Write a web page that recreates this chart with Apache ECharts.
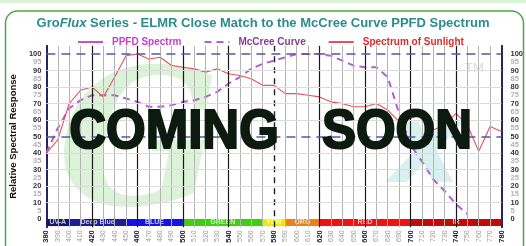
<!DOCTYPE html>
<html>
<head>
<meta charset="utf-8">
<script src="https://cdn.jsdelivr.net/npm/echarts/dist/echarts.min.js"></script>
<style>
  html, body { margin: 0; padding: 0; background: #fff; }
  #chart { width: 526px; height: 246px; }
</style>
</head>
<body>
<div id="chart"></div>
<script>
// wavelength (nm) on the x axis
var wavelengths = [380, 390, 400, 410, 420, 430, 440, 450, 460, 470, 480, 490, 500, 510, 520, 530, 540, 550, 560, 570,
  580, 590, 600, 610, 620, 630, 640, 650, 660, 670, 680, 690, 700, 710, 720, 730, 740, 750, 760, 770, 780];
// spectrum of sunlight, 380..780
var sunlight = [40, 48, 70, 78, 80, 74, 86, 99, 100, 97, 98, 93, 92, 91, 89, 91, 88, 87, 85, 81,
  81, 76, 76, 75, 74, 71, 70, 68, 68, 70, 66, 59, 61, 63, 54, 57, 64, 57, 41, 56, 53];
// McCree curve, 380..750
var mccree = [40, 55, 67, 72, 75, 75, 75, 73, 71, 68, 68, 69, 71, 72, 74, 77, 82, 86, 91, 94,
  96, 98, 100, 100, 100, 99, 96, 93, 92, 92, 86, 64, 45, 35, 24, 17, 9, 3];
// PPFD spectrum: not published yet
var ppfd = [];

// colour bands under the axis
var bandNames = ["UV-A", "Deep Blue", "BLUE", "GREEN", "YLW", "ORG", "RED", "IR"];
var bandStart = [380, 400, 450, 500, 570, 590, 620, 700];
var bandEnd = [400, 450, 500, 570, 590, 620, 700, 780];
var bandColors = ["#16166e", "#1e1e96", "#1414e6", "#3ecf12", "#ecec00", "#f08012", "#f01212", "#c20a0a"];

var hLines = [10, 20, 30, 40, 60, 70, 80, 90];
var dashedLevels = [50, 100];
var boldEvery = 40;

var chart = echarts.init(document.getElementById("chart"));

var sunPts = wavelengths.map(function (w, i) { return [w, sunlight[i]]; });
var mccPts = mccree.map(function (v, i) { return [wavelengths[i], v]; });

// vertical grid lines
var vLines = [];
wavelengths.forEach(function (w) {
  if (w === 380 || w === 780) return;
  var major = (w - 380) % boldEvery === 0;
  var ls = { color: major ? "#1a1a1a" : "#b4b4b4", width: major ? 1.2 : 1, type: "solid" };
  if (w === 580) ls = { color: "#222", width: 1.4, type: [6, 5] };
  vLines.push({ xAxis: w, lineStyle: ls });
});
hLines.forEach(function (v) {
  vLines.push({ yAxis: v, lineStyle: { color: "#dcdcdc", width: 1, type: "solid" } });
});
dashedLevels.forEach(function (v) {
  vLines.push({ yAxis: v, lineStyle: { color: "#5656a6", width: 1.6, type: [9, 6] } });
});

function yLabel(v) {
  if (v < 0 || v > 100) return "";
  return v % 10 === 0 ? "{b|" + v + "}" : "{l|" + v + "}";
}
var yRich = {
  b: { color: "#333", fontWeight: "bold", fontSize: 7.5, fontFamily: "Liberation Sans" },
  l: { color: "#b0b0b0", fontWeight: "bold", fontSize: 7.5, fontFamily: "Liberation Sans" }
};

chart.setOption({
  animation: false,
  backgroundColor: "#fff",
  title: {
    text: "Gro{i|Flux} Series - ELMR Close Match to the McCree Curve PPFD Spectrum",
    left: "center",
    top: 12,
    textStyle: {
      color: "#2a8c8c", fontSize: 13, fontWeight: "bold", fontFamily: "Liberation Sans",
      rich: { i: { color: "#2a8c8c", fontSize: 13, fontWeight: "bold", fontStyle: "italic", fontFamily: "Liberation Sans" } }
    }
  },
  legend: {
    top: 32,
    left: 72,
    itemWidth: 25,
    itemHeight: 8,
    itemGap: 22,
    itemStyle: { opacity: 0 },
    textStyle: { fontSize: 10, fontWeight: "bold", fontFamily: "Liberation Sans", padding: [0, 0, 0, 4] },
    data: [
      { name: "PPFD Spectrm", textStyle: { color: "#c83ec8" } },
      { name: "McCree Curve", textStyle: { color: "#863c96" } },
      { name: "Spectrum of Sunlight", textStyle: { color: "#e02a2a" } }
    ]
  },
  grid: { left: 39, right: 21, top: 45.75, height: 181.5 },
  xAxis: {
    type: "value", min: 380, max: 780, interval: 10,
    axisLine: { show: false }, axisTick: { show: false }, splitLine: { show: false },
    axisLabel: {
      rotate: 90, margin: 3,
      formatter: function (v) { return (v - 380) % boldEvery === 0 ? "{b|" + v + "}" : "{l|" + v + "}"; },
      rich: {
        b: { color: "#222244", fontWeight: "bold", fontSize: 7.5, fontFamily: "Liberation Sans" },
        l: { color: "#999", fontSize: 7, fontFamily: "Liberation Sans" }
      }
    }
  },
  yAxis: [
    {
      type: "value", position: "left", min: -5, max: 105, interval: 5,
      name: "Relative Spectral Response", nameLocation: "middle", nameGap: 17,
      nameTextStyle: { fontSize: 9.5, fontWeight: "bold", color: "#111", fontFamily: "Liberation Sans" },
      axisLine: { show: true, lineStyle: { color: "#26265e", width: 2 } },
      axisTick: { show: false }, splitLine: { show: false },
      axisLabel: { margin: 5, formatter: yLabel, rich: yRich }
    },
    {
      type: "value", position: "right", min: -5, max: 105, interval: 5,
      axisLine: { show: true, lineStyle: { color: "#26265e", width: 2 } },
      axisTick: { show: false }, splitLine: { show: false },
      axisLabel: { margin: 9, formatter: yLabel, rich: yRich }
    }
  ],
  graphic: [
    { type: "rect", left: 0, top: 0, shape: { width: 526, height: 3 }, style: { fill: "#dcf4d6" }, z: -10 },
    { type: "rect", shape: { x: 5.5, y: 11, width: 518, height: 250, r: 12 },
      style: { fill: null, stroke: "#4aa84a", lineWidth: 1.5 }, z: 100 },
    { type: "text", left: 58, top: 60, z: -5,
      style: { text: "G", fontSize: 190, fontStyle: "italic", fontWeight: "bold", fill: "#dcf2d9", fontFamily: "DejaVu Serif" } },
    { type: "text", left: 390, top: 98, z: -5,
      style: { text: "x", fontSize: 110, fontStyle: "italic", fontWeight: "bold", fill: "#d8f0f0", fontFamily: "DejaVu Sans" } },
    { type: "text", left: 465, top: 62, z: -5,
      style: { text: "TM", fontSize: 13, fill: "#dcdcdc", fontFamily: "Liberation Sans" } },
    { type: "text", x: 174, y: 147, scaleY: 1.1, originY: 147, z: 50,
      style: { text: "COMING", fontSize: 51, fontWeight: "bold", fill: "#0c1a10", stroke: "#0c1a10", lineWidth: 2,
        fontFamily: "Liberation Sans", align: "center", verticalAlign: "middle" } },
    { type: "text", x: 397, y: 147, scaleY: 1.1, originY: 147, z: 50,
      style: { text: "SOON", fontSize: 51, fontWeight: "bold", fill: "#0c1a10", stroke: "#0c1a10", lineWidth: 2,
        fontFamily: "Liberation Sans", align: "center", verticalAlign: "middle" } }
  ],
  series: [
    {
      name: "grid", type: "line", data: [], z: 1, silent: true,
      markLine: { silent: true, symbol: "none", label: { show: false }, animation: false, data: vLines }
    },
    {
      name: "PPFD Spectrm", type: "line", data: ppfd, symbol: "none", z: 3,
      lineStyle: { color: "#d24ad2", width: 1.5 }, itemStyle: { color: "#d24ad2" }
    },
    {
      name: "McCree Curve", type: "line", data: mccPts, symbol: "none", z: 3,
      lineStyle: { color: "#b45ed2", width: 2, type: [7, 5] }, itemStyle: { color: "#8a3e9a" }
    },
    {
      name: "Spectrum of Sunlight", type: "line", data: sunPts, symbol: "none", z: 3,
      lineStyle: { color: "#e8505c", width: 1.1 }, itemStyle: { color: "#e8505c" }
    },
    {
      name: "bands", type: "custom", z: 4, silent: true,
      data: bandStart.map(function (s, i) { return [s, bandEnd[i], i]; }),
      encode: { x: [0, 1] },
      renderItem: function (params, api) {
        var i = api.value(2);
        var p0 = api.coord([api.value(0), 0]);
        var p1 = api.coord([api.value(1), -4.3]);
        return {
          type: "rect",
          shape: { x: p0[0], y: p0[1], width: p1[0] - p0[0], height: p1[1] - p0[1] },
          style: { fill: bandColors[i] },
          textContent: { style: { text: bandNames[i], fill: "rgba(255,255,255,0.75)", fontSize: 7, fontWeight: "bold", fontFamily: "Liberation Sans" } },
          textConfig: { position: "inside" }
        };
      }
    }
  ]
});
</script>
</body>
</html>
